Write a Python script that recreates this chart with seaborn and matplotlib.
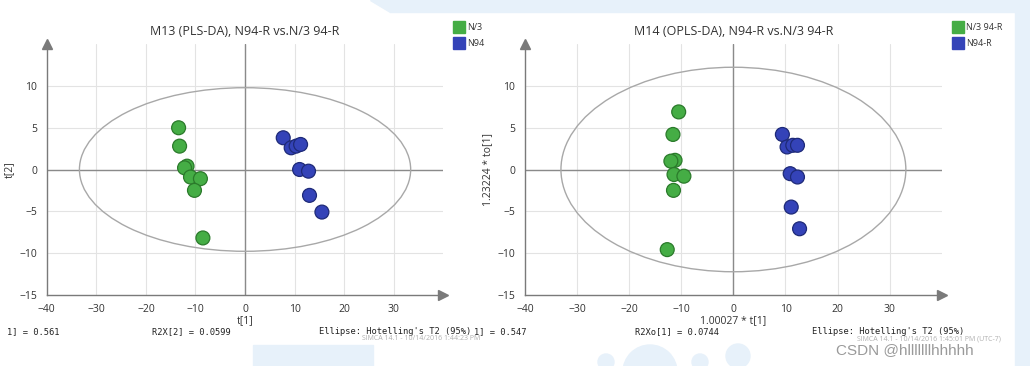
import numpy as np
import pandas as pd
import matplotlib
matplotlib.use('Agg')
import matplotlib.pyplot as plt
from matplotlib.patches import Ellipse, Rectangle, Polygon
import seaborn as sns

# ---- data ----
m13_x_green = [-13.4, -13.2, -11.7, -12.2, -11.0, -9.0, -10.2, -8.5]
m13_y_green = [5.0, 2.8, 0.4, 0.2, -0.9, -1.1, -2.5, -8.2]
m13_x_blue = [7.7, 9.3, 10.3, 11.2, 11.0, 12.8, 13.0, 15.5]
m13_y_blue = [3.8, 2.6, 2.8, 3.0, 0.0, -0.2, -3.1, -5.1]

m14_x_green = [-10.5, -11.6, -11.2, -12.0, -11.4, -9.5, -11.5, -12.7]
m14_y_green = [6.9, 4.2, 1.1, 1.0, -0.6, -0.8, -2.5, -9.6]
m14_x_blue = [9.4, 10.3, 11.4, 12.3, 10.9, 12.3, 11.1, 12.7]
m14_y_blue = [4.2, 2.7, 2.9, 2.9, -0.5, -0.9, -4.5, -7.1]

m13_labels = ['N/3', 'N94']
m14_labels = ['N/3 94-R', 'N94-R']

# Hotelling T2 ellipse semi-axes (x, y)
m13_ellipse = [33.4, 9.8]
m14_ellipse = [33.1, 12.25]

x_ticks = [-40, -30, -20, -10, 0, 10, 20, 30]
y_ticks = [-15, -10, -5, 0, 5, 10]

# bottom-line model statistics (the first ones are clipped in the screenshot)
m13_stats = ['1] = 0.561', 'R2X[2] = 0.0599', "Ellipse: Hotelling's T2 (95%)"]
m14_stats = ['1] = 0.547', 'R2Xo[1] = 0.0744', "Ellipse: Hotelling's T2 (95%)"]

green = '#45ad45'
blue = '#3443b8'
green_edge = '#2b7a2b'
blue_edge = '#1e2a78'
pale = '#e7f1fa'

sns.set_style('white')
plt.rcParams['font.family'] = ['Open Sans', 'DejaVu Sans']

W, H = 1030, 366
fig = plt.figure(figsize=(W / 100, H / 100), dpi=100)
fig.patch.set_facecolor('white')

# light blue page decoration behind the SIMCA panel
fig.patches.append(Polygon([(370 / W, 1), (1, 1), (1, 1 - 12 / H), (390 / W, 1 - 12 / H)],
                           closed=True, transform=fig.transFigure, color=pale, zorder=0))
fig.patches.append(Rectangle((1015 / W, 0), 15 / W, 1, transform=fig.transFigure,
                             color=pale, zorder=0))
fig.patches.append(Rectangle((253 / W, 0), 120 / W, 21 / H, transform=fig.transFigure,
                             color=pale, zorder=0))
for cx, cy, r in [(606, 362, 8), (650, 372, 27), (700, 362, 8), (738, 356, 12)]:
    fig.patches.append(Ellipse((cx / W, 1 - cy / H), 2 * r / W, 2 * r / H,
                               transform=fig.transFigure, color=pale, zorder=0))


def score_plot(ax, xg, yg, xb, yb, labels, ell, title, xlabel, ylabel):
    df = pd.DataFrame({
        'x': xg + xb,
        'y': yg + yb,
        'group': [labels[0]] * len(xg) + [labels[1]] * len(xb),
    })
    ax.set_xlim(-40, 40)
    ax.set_ylim(-15, 15)
    for v in x_ticks[1:]:
        ax.axvline(v, color='#e3e3e3', lw=0.8, zorder=0)
    for v in y_ticks[1:]:
        ax.axhline(v, color='#e3e3e3', lw=0.8, zorder=0)
    ax.axvline(0, color='#8a8a8a', lw=1.0, zorder=1)
    ax.axhline(0, color='#8a8a8a', lw=1.0, zorder=1)
    ax.add_patch(Ellipse((0, 0), 2 * ell[0], 2 * ell[1], fill=False,
                         edgecolor='#a8a8a8', lw=1.0, zorder=2))
    sns.scatterplot(data=df, x='x', y='y', hue='group',
                    palette={labels[0]: green, labels[1]: blue},
                    s=100, linewidth=0.9,
                    edgecolor=[green_edge] * len(xg) + [blue_edge] * len(xb),
                    legend=False, ax=ax, zorder=3)
    for s in ['top', 'right']:
        ax.spines[s].set_visible(False)
    for s in ['left', 'bottom']:
        ax.spines[s].set_color('#7a7a7a')
        ax.spines[s].set_linewidth(1.0)
    ax.plot(1, 0, '>', color='#7a7a7a', ms=7, transform=ax.transAxes, clip_on=False)
    ax.plot(0, 1, '^', color='#7a7a7a', ms=7, transform=ax.transAxes, clip_on=False)
    ax.set_xticks(x_ticks)
    ax.set_yticks(y_ticks)
    ax.set_xticks(np.arange(-35, 40, 10), minor=True)
    ax.set_yticks(np.arange(-12.5, 15, 2.5), minor=True)
    ax.tick_params(which='major', direction='out', length=4, width=0.8,
                   color='#7a7a7a', labelsize=7.5, labelcolor='#333333', pad=3)
    ax.tick_params(which='minor', direction='out', length=3, width=0.8, color='#7a7a7a')
    ax.set_xlabel(xlabel, fontsize=7.5, color='#333333', labelpad=0)
    ax.set_ylabel(ylabel, fontsize=7.5, color='#333333', labelpad=3)
    ax.set_title(title, fontsize=9, color='#333333', pad=7)
    ax.set_facecolor('none')


ax1 = fig.add_axes([46.7 / W, 1 - 294.7 / H, (443.4 - 46.7) / W, (294.7 - 44.3) / H])
ax2 = fig.add_axes([525 / W, 1 - 294.7 / H, (941.8 - 525) / W, (294.7 - 44.3) / H])

score_plot(ax1, m13_x_green, m13_y_green, m13_x_blue, m13_y_blue, m13_labels,
           m13_ellipse, 'M13 (PLS-DA), N94-R vs.N/3 94-R', 't[1]', 't[2]')
score_plot(ax2, m14_x_green, m14_y_green, m14_x_blue, m14_y_blue, m14_labels,
           m14_ellipse, 'M14 (OPLS-DA), N94-R vs.N/3 94-R', '1.00027 * t[1]',
           '1.23224 * to[1]')

# legends as square swatches
for x0, labels in [(453, m13_labels), (952, m14_labels)]:
    for i, (lab, col) in enumerate(zip(labels, [green, blue])):
        y0 = 21 + i * 16
        fig.patches.append(Rectangle((x0 / W, 1 - (y0 + 12) / H), 12 / W, 12 / H,
                                     transform=fig.transFigure, color=col, zorder=5))
        fig.text((x0 + 14) / W, 1 - (y0 + 6) / H, lab, fontsize=6.5, color='#333333',
                 va='center', ha='left')

# model statistics along the bottom, monospace like SIMCA
mono = dict(fontsize=6.3, family='DejaVu Sans Mono', color='#222222', va='center')
for xp, t in zip([7, 152, 319], m13_stats):
    fig.text(xp / W, 1 - 332 / H, t, **mono)
fig.text(474 / W, 1 - 332 / H, m14_stats[0], **mono)
for xp, t in zip([635, 812], m14_stats[1:]):
    fig.text(xp / W, 1 - 332 / H, t, **mono)

fig.text(362 / W, 1 - 339 / H, 'SIMCA 14.1 - 10/14/2016 1:44:23 PM', fontsize=5,
         color='#b0b0b0', va='center')
fig.text(857 / W, 1 - 339 / H, 'SIMCA 14.1 - 10/14/2016 1:45:01 PM (UTC-7)', fontsize=5,
         color='#b0b0b0', va='center')
fig.text(836 / W, 1 - 350 / H, 'CSDN @hlllllllhhhhh', fontsize=11, color='#9a9a9a',
         va='center', family=['Liberation Sans', 'DejaVu Sans'])

fig.savefig('out.png', dpi=100)
